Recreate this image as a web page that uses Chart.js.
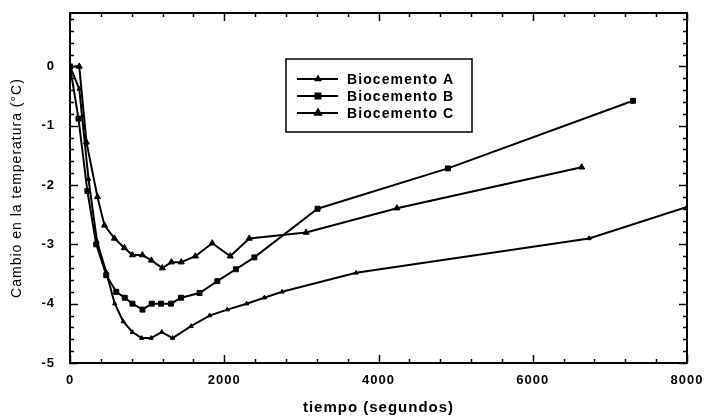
<!DOCTYPE html>
<html>
<head>
<meta charset="utf-8">
<script src="https://cdn.jsdelivr.net/npm/chart.js@4.4.1/dist/chart.umd.min.js"></script>
<style>
  html, body { margin: 0; padding: 0; background: #fff; }
  #wrap { width: 705px; height: 418px; }
</style>
</head>
<body>
<div id="wrap"><canvas id="c" width="705" height="418"></canvas></div>
<script>
'use strict';

// ─── Data ─────────────────────────────────────────────────────────
const seriesNames = ['Biocemento A', 'Biocemento B', 'Biocemento C'];

const timeA = [0, 120, 240, 350, 470, 580, 690, 810, 930, 1050, 1190, 1330, 1570, 1810, 2040, 2290, 2520, 2750, 3710, 6730, 8000];
const tempA = [0, -0.38, -1.9, -2.95, -3.47, -4.0, -4.3, -4.48, -4.58, -4.58, -4.48, -4.58, -4.38, -4.2, -4.1, -4.0, -3.9, -3.8, -3.48, -2.9, -2.37];

const timeB = [0, 110, 225, 340, 470, 600, 710, 810, 940, 1060, 1180, 1310, 1440, 1680, 1910, 2150, 2390, 3210, 4900, 7300];
const tempB = [0, -0.88, -2.1, -3.0, -3.52, -3.8, -3.9, -4.0, -4.1, -4.0, -4.0, -4.0, -3.9, -3.82, -3.62, -3.42, -3.22, -2.4, -1.72, -0.58];

const timeC = [0, 120, 214, 356, 447, 576, 706, 809, 939, 1055, 1197, 1314, 1443, 1625, 1845, 2078, 2324, 3061, 4239, 6634];
const tempC = [0, 0, -1.28, -2.2, -2.68, -2.9, -3.06, -3.18, -3.18, -3.27, -3.4, -3.3, -3.3, -3.2, -2.98, -3.2, -2.9, -2.8, -2.39, -1.7];

const xTickValues = [0, 2000, 4000, 6000, 8000];
const yTickValues = [0, -1, -2, -3, -4, -5];

const toPoints = (xs, ys) => xs.map((x, i) => ({ x, y: ys[i] }));

// scales otherwise push the plot area in for their title/label overhang
const zeroPad = s => { s.paddingLeft = s.paddingRight = s.paddingTop = s.paddingBottom = 0; };

// ─── Frame + inward ticks on all four sides ───────────────────────
const framePlugin = {
  id: 'frame',
  beforeDraw(chart) {
    chart.ctx.letterSpacing = '1px';
  },
  afterDraw(chart) {
    const { ctx, chartArea: a, scales: { x, y } } = chart;
    ctx.save();
    ctx.letterSpacing = '0px';
    ctx.strokeStyle = '#000';
    ctx.lineWidth = 2;
    ctx.strokeRect(a.left, a.top, a.right - a.left, a.bottom - a.top);

    ctx.lineWidth = 1.5;
    ctx.beginPath();
    for (let v = 0; v <= 8000; v += 400) {
      const px = Math.round(x.getPixelForValue(v)) + 0.5;
      const len = v % 2000 === 0 ? 8 : 4;
      ctx.moveTo(px, a.bottom); ctx.lineTo(px, a.bottom - len);
      ctx.moveTo(px, a.top); ctx.lineTo(px, a.top + len);
    }
    for (let i = -25; i <= 4; i++) {
      const v = i / 5;
      const py = Math.round(y.getPixelForValue(v)) + 0.5;
      const len = i % 5 === 0 ? 8 : 4;
      ctx.moveTo(a.left, py); ctx.lineTo(a.left + len, py);
      ctx.moveTo(a.right, py); ctx.lineTo(a.right - len, py);
    }
    ctx.stroke();
    ctx.restore();
  }
};

// ─── Boxed legend inside the plot ─────────────────────────────────
const boxLegend = {
  id: 'boxLegend',
  afterDraw(chart) {
    const { ctx } = chart;
    const box = { x: 286, y: 59, w: 186, h: 73 };
    ctx.save();
    ctx.strokeStyle = '#000';
    ctx.lineWidth = 1.5;
    ctx.strokeRect(box.x, box.y, box.w, box.h);

    chart.data.datasets.forEach((ds, i) => {
      const rowY = 79 + i * 17;
      ctx.lineWidth = 2;
      ctx.beginPath();
      ctx.moveTo(297, rowY); ctx.lineTo(338, rowY);
      ctx.stroke();
      ctx.fillStyle = '#000';
      Chart.helpers.drawPoint(ctx, {
        pointStyle: ds.pointStyle, radius: ds.pointRadius, rotation: 0, borderWidth: 1
      }, 318, rowY);
      ctx.letterSpacing = '1.1px';
      ctx.font = 'bold 14px "Liberation Sans", Arial, sans-serif';
      ctx.textBaseline = 'middle';
      ctx.textAlign = 'left';
      ctx.fillText(ds.label, 347, rowY + 1);
    });
    ctx.restore();
  }
};

const lineStyle = {
  borderColor: '#000',
  backgroundColor: '#000',
  borderWidth: 2,
  pointBorderColor: '#000',
  pointBackgroundColor: '#000',
  pointBorderWidth: 1,
  fill: false,
  tension: 0,
};

new Chart(document.getElementById('c'), {
  type: 'line',
  data: {
    datasets: [
      { ...lineStyle, label: seriesNames[0], data: toPoints(timeA, tempA), pointStyle: 'triangle', pointRadius: 2.5 },
      { ...lineStyle, label: seriesNames[1], data: toPoints(timeB, tempB), pointStyle: 'rect', pointRadius: 3.5 },
      { ...lineStyle, label: seriesNames[2], data: toPoints(timeC, tempC), pointStyle: 'triangle', pointRadius: 3.5 },
    ],
  },
  options: {
    responsive: false,
    animation: false,
    layout: { autoPadding: false, padding: { top: 13, right: 18, left: 0, bottom: 0 } },
    plugins: { legend: { display: false }, tooltip: { enabled: false } },
    scales: {
      x: {
        type: 'linear',
        min: 0,
        max: 8000,
        grid: { display: false },
        border: { display: false },
        afterBuildTicks: s => { s.ticks = xTickValues.map(value => ({ value })); },
        afterFit: s => { s.height = 55; zeroPad(s); },
        ticks: {
          color: '#000',
          padding: 2,
          maxRotation: 0,
          callback: v => String(v),
          font: { family: '"Liberation Sans", Arial, sans-serif', size: 13, weight: 'bold' },
        },
        title: {
          display: true,
          text: 'tiempo (segundos)',
          color: '#000',
          padding: { top: 0, bottom: 1 },
          font: { family: '"Liberation Sans", Arial, sans-serif', size: 15, weight: 'bold' },
        },
      },
      y: {
        type: 'linear',
        min: -5,
        max: 0.9,
        grid: { display: false },
        border: { display: false },
        afterBuildTicks: s => { s.ticks = yTickValues.map(value => ({ value })); },
        afterFit: s => { s.width = 70; zeroPad(s); },
        ticks: {
          color: '#000',
          padding: 7,
          callback: v => String(v),
          font: { family: '"Liberation Sans", Arial, sans-serif', size: 13, weight: 'bold' },
        },
        title: {
          display: true,
          text: 'Cambio en la temperatura (°C)',
          color: '#000',
          padding: { top: 9, bottom: 0 },
          font: { family: '"Liberation Sans", Arial, sans-serif', size: 14, weight: 'normal' },
        },
      },
    },
  },
  plugins: [framePlugin, boxLegend],
});
</script>
</body>
</html>
